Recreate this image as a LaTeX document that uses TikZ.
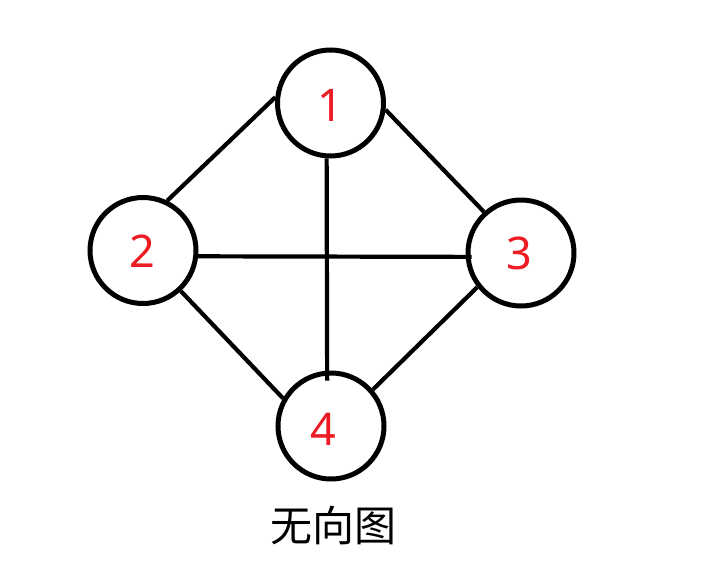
\documentclass[tikz,border=0pt]{standalone}
\usepackage{fontspec}
\setmainfont{Noto Sans}
\newfontfamily\cjk{Noto Sans CJK SC}
\definecolor{paintred}{RGB}{237,28,36}
\begin{document}
\begin{tikzpicture}[x=1pt,y=-1pt,
  vertex/.style={circle,draw=black,line width=5pt,minimum size=106pt,inner sep=0pt},
  digit/.style={text=paintred,font=\fontsize{45}{45}\selectfont,inner sep=0pt},
  edge/.style={line width=4.2pt,black}]
\useasboundingbox (0,0) rectangle (710,584);
\node[vertex] (c1) at (330.5,103) {};
\node[vertex] (c2) at (143,250.5) {};
\node[vertex] (c3) at (521,253) {};
\node[vertex] (c4) at (331,426) {};
\node[digit] (d1) at (330,105) {1};
\node[digit] (d2) at (142,251) {2};
\node[digit] (d3) at (519,253) {3};
\node[digit] (d4) at (323,429) {4};
\draw[edge] (c1.174) -- (c2.64);
\draw[edge] (c1.-7) -- (c3.132);
\draw[edge] (c2.-47) -- (c4.150);
\draw[edge] (c3.218) -- (c4.41);
\draw[edge,shorten >=-10pt] (c1.266) -- (c4.94);
\draw[edge,shorten >=-6pt] (c2.-6) -- (c3.184);
\node[font=\cjk\fontsize{42}{42}\selectfont,inner sep=0pt] (cap) at (333,525) {无向图};
\end{tikzpicture}
\end{document}
